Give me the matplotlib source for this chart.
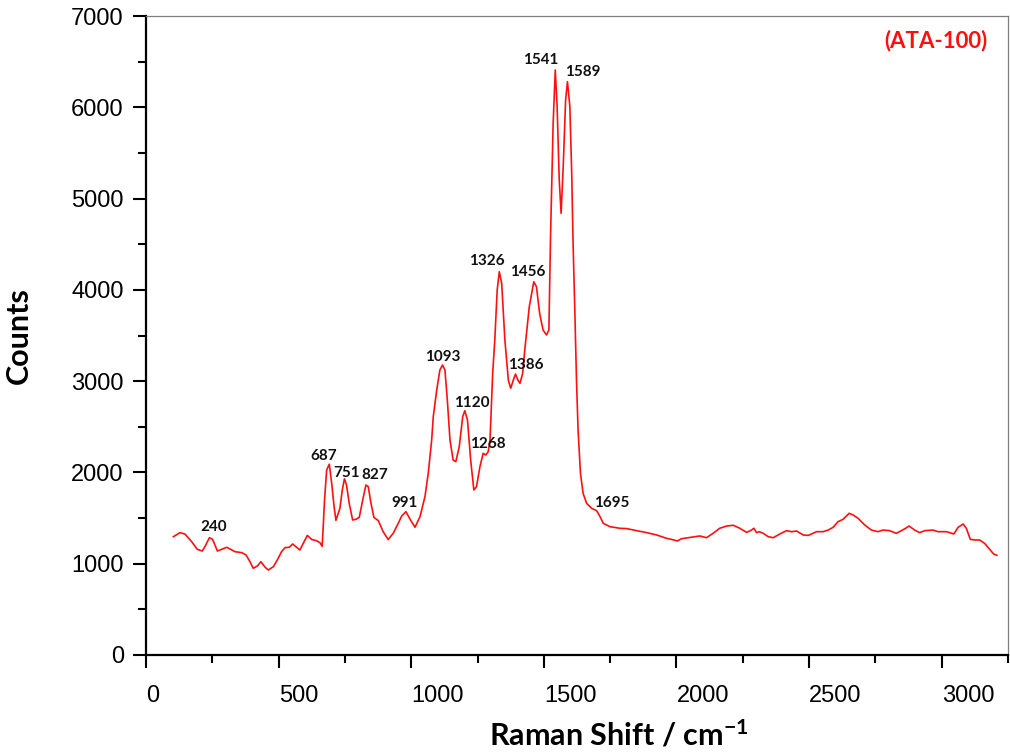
import matplotlib
matplotlib.use("Agg")
import matplotlib.pyplot as plt
from matplotlib.ticker import MultipleLocator

plt.rcParams["mathtext.fontset"] = "custom"
plt.rcParams["mathtext.rm"] = "Lato:bold"
plt.rcParams["mathtext.it"] = "Lato:bold"
plt.rcParams["mathtext.bf"] = "Lato:bold"

# ── spectrum ─────────────────────────────────────────────────────────────────
shift = [
    103, 128, 147, 172, 193, 212, 222, 239, 251, 269, 285, 304, 319, 335, 361,
    377, 392, 404, 420, 433, 449, 461, 480, 495, 511, 524, 540, 553, 568, 580,
    596, 608, 625, 643, 656, 664, 668, 673, 681, 691, 700, 709, 716, 725, 731,
    740, 748, 756, 766, 779, 791, 804, 817, 829, 838, 847, 859, 876, 894, 913,
    932, 951, 964, 980, 995, 1014, 1033, 1052, 1064, 1077, 1083, 1096, 1108,
    1118, 1127, 1136, 1146, 1158, 1168, 1181, 1194, 1202, 1212, 1224, 1236,
    1246, 1259, 1271, 1281, 1290, 1297, 1303, 1307, 1315, 1324, 1332, 1341,
    1353, 1366, 1375, 1385, 1393, 1402, 1410, 1420, 1428, 1445, 1462, 1472,
    1484, 1497, 1510, 1519, 1525, 1535, 1543, 1550, 1558, 1565, 1573, 1582,
    1589, 1598, 1605, 1610, 1617, 1623, 1629, 1638, 1648, 1661, 1680, 1699,
    1711, 1724, 1749, 1787, 1812, 1850, 1889, 1925, 1963, 1981, 2003, 2019,
    2044, 2069, 2088, 2113, 2138, 2163, 2189, 2214, 2239, 2264, 2279, 2292,
    2302, 2312, 2327, 2346, 2365, 2390, 2415, 2434, 2453, 2478, 2497, 2515,
    2528, 2553, 2572, 2591, 2609, 2628, 2651, 2666, 2685, 2710, 2735, 2760,
    2779, 2804, 2829, 2848, 2864, 2877, 2898, 2917, 2936, 2967, 2986, 3018,
    3046, 3062, 3081, 3093, 3108, 3125, 3143, 3162, 3181, 3196, 3208,
]
counts = [
    1296, 1340, 1325, 1241, 1158, 1139, 1187, 1285, 1267, 1139, 1158, 1180,
    1158, 1132, 1121, 1096, 1022, 950, 975, 1022, 961, 931, 967, 1041, 1132,
    1176, 1180, 1216, 1180, 1150, 1241, 1310, 1265, 1252, 1230, 1190, 1400,
    1700, 2027, 2090, 1881, 1625, 1475, 1552, 1607, 1808, 1930, 1862, 1662,
    1479, 1486, 1508, 1698, 1862, 1844, 1680, 1508, 1471, 1351, 1265, 1333,
    1443, 1523, 1570, 1490, 1399, 1515, 1740, 1990, 2355, 2611, 2903, 3122,
    3177, 3122, 2794, 2355, 2136, 2118, 2282, 2611, 2676, 2574, 2136, 1808,
    1844, 2063, 2209, 2191, 2227, 2355, 2794, 3085, 3451, 3999, 4199, 4072,
    3451, 3013, 2922, 3013, 3078, 3013, 2976, 3085, 3341, 3815, 4089, 4035,
    3743, 3560, 3506, 3560, 4560, 5824, 6409, 6007, 5204, 4839, 5349, 6080,
    6281, 6007, 5277, 4530, 3743, 3013, 2465, 1990, 1771, 1662, 1607, 1581,
    1520, 1443, 1406, 1388, 1385, 1362, 1340, 1315, 1278, 1267, 1249, 1274,
    1285, 1296, 1304, 1285, 1333, 1388, 1413, 1421, 1388, 1344, 1362, 1388,
    1340, 1351, 1333, 1296, 1285, 1326, 1362, 1351, 1358, 1315, 1310, 1333,
    1351, 1351, 1369, 1399, 1460, 1486, 1552, 1534, 1497, 1424, 1369, 1351,
    1369, 1362, 1333, 1362, 1388, 1413, 1369, 1340, 1362, 1369, 1351, 1351,
    1326, 1399, 1435, 1388, 1267, 1260, 1260, 1223, 1158, 1106, 1092,
]

# peak labels: text and where the text sits (data coords)
peak_text = ["240", "687", "751", "827", "991", "1093", "1120", "1268",
             "1326", "1386", "1456", "1541", "1589", "1695"]
peak_x = [254, 668, 756, 863, 976, 1118, 1228, 1290,
          1284, 1432, 1441, 1488, 1646, 1755]
peak_y = [1406, 2180, 1997, 1972, 1669, 3261, 2757, 2311,
          4316, 3177, 4192, 6518, 6383, 1662]

x_ticks = [0, 500, 1000, 1500, 2000, 2500, 3000]
y_ticks = [0, 1000, 2000, 3000, 4000, 5000, 6000, 7000]

fig = plt.figure(figsize=(10.1, 7.56), dpi=100)
ax = fig.add_axes([0.1446, 0.1336, 0.8534, 0.8452])

ax.plot(shift, counts, color="#ff1010", linewidth=1.2)

ax.set_xlim(0, 3250)
ax.set_ylim(0, 7000)
ax.set_xticks(x_ticks)
ax.set_yticks(y_ticks)
ax.xaxis.set_minor_locator(MultipleLocator(250))
ax.yaxis.set_minor_locator(MultipleLocator(500))

for side in ("left", "bottom"):
    ax.spines[side].set_linewidth(1.6)
    ax.spines[side].set_color("black")
for side in ("top", "right"):
    ax.spines[side].set_linewidth(0.9)
    ax.spines[side].set_color("#7f7f7f")

ax.tick_params(which="major", direction="out", length=9.5, width=1.5,
               labelsize=17, top=False, right=False)
ax.tick_params(which="minor", direction="out", length=5.5, width=1.5,
               top=False, right=False)
ax.tick_params(axis="x", which="major", pad=12)
ax.tick_params(axis="y", which="major", pad=6.5)
for lab in ax.get_xticklabels() + ax.get_yticklabels():
    lab.set_fontfamily("Liberation Sans")
for lab in ax.get_xticklabels():
    lab.set_horizontalalignment("left")

for t, px, py in zip(peak_text, peak_x, peak_y):
    ax.text(px, py, t, ha="center", va="center", fontsize=11,
            fontweight="bold", family="Lato", color="#111111")

ax.text(0.916, 0.961, "(ATA-100)", transform=ax.transAxes, ha="center",
        va="center", fontsize=16, fontweight="bold", family="Lato",
        color="#ff1010")

ax.set_ylabel("Counts", fontsize=22, fontweight="bold", family="Lato",
              va="center")
ax.yaxis.set_label_coords(-0.147, 0.5)
ax.set_xlabel("Raman Shift / cm$^{-1}$", fontsize=22, fontweight="bold",
              family="Lato", va="center")
ax.xaxis.set_label_coords(0.548, -0.124)

fig.savefig("out.png", dpi=100)
